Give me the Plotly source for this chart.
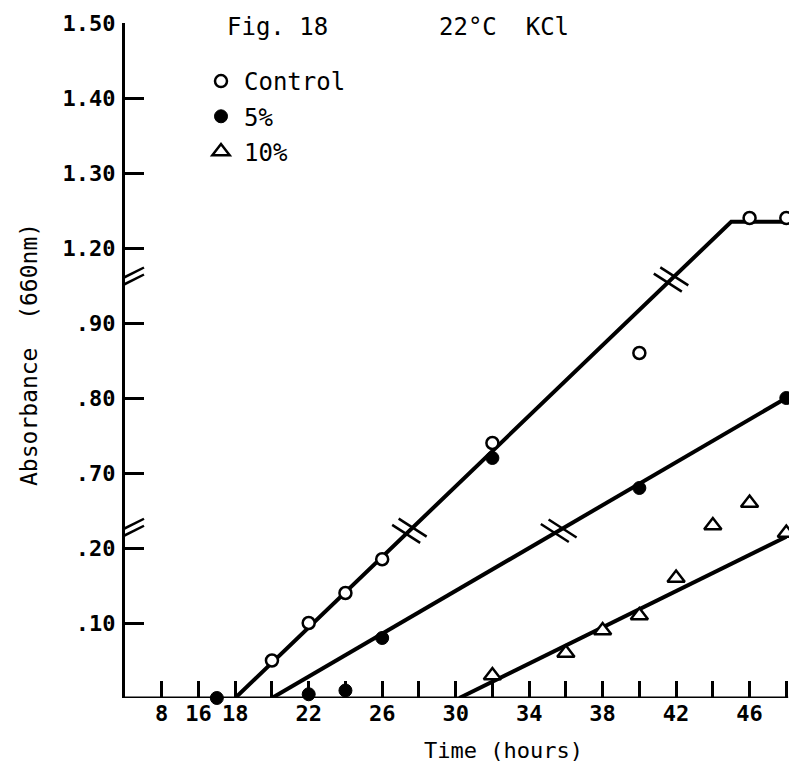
import plotly.graph_objects as go

# ---------------- data ----------------
control_t = [20, 22, 24, 26, 32, 40, 46, 48]
control_a = [0.05, 0.10, 0.14, 0.185, 0.74, 0.86, 1.24, 1.24]

kcl5_t = [17, 22, 24, 26, 32, 40, 48]
kcl5_a = [0.0, 0.005, 0.01, 0.08, 0.72, 0.68, 0.80]

kcl10_t = [32, 36, 38, 40, 42, 44, 46, 48]
kcl10_a = [0.03, 0.06, 0.09, 0.11, 0.16, 0.23, 0.26, 0.22]

# hand-drawn fitted lines (vertices, in hours / absorbance)
fit_control_t = [18, 45, 49.2]
fit_control_a = [0.0, 1.235, 1.235]
fit5_t = [20, 48]
fit5_a = [0.0, 0.80]
fit10_t = [30.2, 48]
fit10_a = [0.0, 0.215]

x_tick_hours = [8, 16, 18, 20, 22, 24, 26, 28, 30, 32, 34, 36, 38, 40, 42, 44, 46, 48]
x_tick_labels = ["8", "16", "18", "", "22", "", "26", "", "30", "", "34", "", "38", "", "42", "", "46", ""]
y_tick_values = [0.10, 0.20, 0.70, 0.80, 0.90, 1.20, 1.30, 1.40, 1.50]
y_tick_labels = [".10", ".20", ".70", ".80", ".90", "1.20", "1.30", "1.40", "1.50"]

# ---------------- broken-axis scales ----------------
def xd(t):
    if t >= 16:
        return t
    if t >= 8:
        return 14 + (t - 8) * 0.25
    return 12 + t * 0.25

def yd(v):
    if v < 0.45:
        return v * 10
    if v < 1.05:
        return v * 10 - 4
    return v * 10 - 6

W, H = 797, 774
ML, MR, MT, MB = 117, 0, 15, 84
PW, PH = W - ML - MR, H - MT - MB
XMIN, XMAX = 12, 12 + PW / 18.37
YMIN, YMAX = 0, 9
PX = PW / (XMAX - XMIN)
PY = PH / (YMAX - YMIN)

def px2paper(px, py):
    return (px - ML) / PW, (H - MB - py) / PH

FONT_MONO = "DejaVu Sans Mono"

fig = go.Figure()

# fitted lines
for tt, aa in [(fit_control_t, fit_control_a), (fit5_t, fit5_a), (fit10_t, fit10_a)]:
    fig.add_trace(go.Scatter(
        x=[xd(t) for t in tt], y=[yd(a) for a in aa], mode="lines",
        line=dict(color="black", width=4), showlegend=False, hoverinfo="skip"))

# data points
fig.add_trace(go.Scatter(
    x=[xd(t) for t in control_t], y=[yd(a) for a in control_a], mode="markers",
    name="Control", legendgroup="c", cliponaxis=False,
    marker=dict(symbol="circle", size=12, color="white", line=dict(color="black", width=2.5))))
fig.add_trace(go.Scatter(
    x=[xd(t) for t in kcl5_t], y=[yd(a) for a in kcl5_a], mode="markers",
    name="5%", legendgroup="f", cliponaxis=False,
    marker=dict(symbol="circle", size=13, color="black", line=dict(color="black", width=1))))
fig.add_trace(go.Scatter(
    x=[xd(t) for t in kcl10_t], y=[yd(a) for a in kcl10_a], mode="markers",
    name="10%", legendgroup="t", cliponaxis=False,
    marker=dict(symbol="triangle-up", size=15, color="white", line=dict(color="black", width=2.5))))

shapes = []
# x axis line (ends at 48 h)
shapes.append(dict(type="line", xref="x", yref="y", x0=XMIN, y0=0, x1=xd(48) + 0.1, y1=0,
                   line=dict(color="black", width=3)))

# y-axis break marks
for dbrk in [2.25, 5.6]:
    for off in (-3.5, 3.5):
        cx, cy = XMIN + 5 / PX, dbrk + off / PY
        shapes.append(dict(type="line", xref="x", yref="y",
                           x0=cx - 14 / PX, y0=cy - 7 / PY, x1=cx + 14 / PX, y1=cy + 7 / PY,
                           line=dict(color="black", width=2.5)))

# break marks on fitted lines where they cross the axis breaks
def line_breaks(tt, aa, levels):
    out = []
    xs = [xd(t) for t in tt]
    ys = [yd(a) for a in aa]
    for lv in levels:
        for i in range(len(xs) - 1):
            if (ys[i] - lv) * (ys[i + 1] - lv) < 0:
                f = (lv - ys[i]) / (ys[i + 1] - ys[i])
                out.append((xs[i] + f * (xs[i + 1] - xs[i]), lv,
                            xs[i + 1] - xs[i], ys[i + 1] - ys[i]))
    return out

for cx, cy, dx, dy in (line_breaks(fit_control_t, fit_control_a, [2.23, 5.58]) +
                       line_breaks(fit5_t, fit5_a, [2.23])):
    lx, ly = dx * PX, dy * PY
    n = (lx ** 2 + ly ** 2) ** 0.5
    ux, uy = lx / n, ly / n
    for off in (-4.5, 4.5):
        mx, my = cx + ux * off / PX, cy + uy * off / PY
        shapes.append(dict(type="line", xref="x", yref="y",
                           x0=mx - 14 / PX, y0=my + 9 / PY, x1=mx + 14 / PX, y1=my - 9 / PY,
                           line=dict(color="black", width=2.5)))

annotations = []
def add_text(text, px, py, size, xanchor="left", angle=0):
    x, y = px2paper(px, py)
    annotations.append(dict(text=text, x=x, y=y, xref="paper", yref="paper",
                            xanchor=xanchor, yanchor="middle", showarrow=False, textangle=angle,
                            font=dict(family=FONT_MONO, size=size, color="black")))

add_text("Fig. 18", 217, 19, 24)
add_text("22°C  KCl", 429, 19, 24)
add_text("Absorbance  (660nm)", 21, 347, 23, xanchor="center", angle=-90)
add_text("Time (hours)", 495, 742, 22, xanchor="center")

lx, ly = px2paper(190, 51)
fig.update_layout(
    width=W, height=H,
    margin=dict(l=ML, r=MR, t=MT, b=MB, pad=0),
    paper_bgcolor="white", plot_bgcolor="white",
    showlegend=True,
    legend=dict(x=lx, y=ly, xanchor="left", yanchor="top", bgcolor="rgba(0,0,0,0)",
                font=dict(family=FONT_MONO, size=24, color="black"),
                tracegroupgap=1, itemsizing="trace", itemwidth=36),
    shapes=shapes, annotations=annotations,
    xaxis=dict(range=[XMIN, XMAX], showgrid=False, zeroline=False, showline=False,
               tickmode="array", tickvals=[xd(t) for t in x_tick_hours], ticktext=x_tick_labels,
               ticks="inside", ticklen=17, tickwidth=2.5, tickcolor="black",
               ticklabelstandoff=0,
               tickfont=dict(family=FONT_MONO, size=22, color="black", weight="bold")),
    yaxis=dict(range=[YMIN, YMAX], showgrid=False, zeroline=False, showline=True,
               linecolor="black", linewidth=3,
               tickmode="array", tickvals=[yd(v) for v in y_tick_values], ticktext=y_tick_labels,
               ticks="inside", ticklen=19, tickwidth=2.5, tickcolor="black",
               ticklabelstandoff=2,
               tickfont=dict(family=FONT_MONO, size=22, color="black", weight="bold")),
)

fig.write_html("out.html")
